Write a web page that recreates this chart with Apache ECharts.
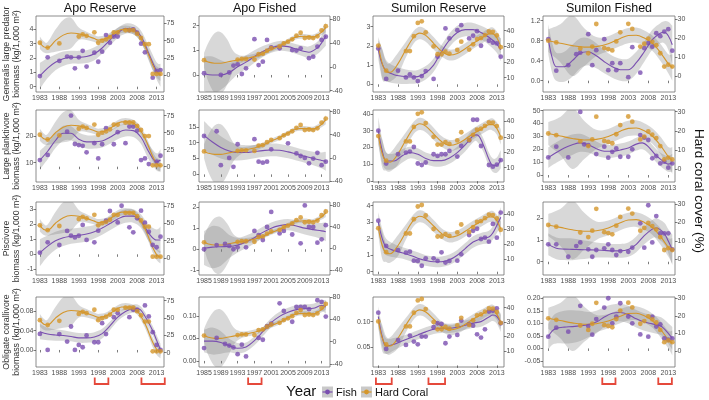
<!DOCTYPE html>
<html><head><meta charset="utf-8">
<script src="https://cdn.jsdelivr.net/npm/echarts@6/dist/echarts.min.js"></script>
<style>html,body{margin:0;padding:0;background:#fff}#c{width:709px;height:400px}</style>
</head><body><div id="c"></div><script>
// ---------------- DATA ----------------
const colTitles = ['Apo Reserve','Apo Fished','Sumilon Reserve','Sumilon Fished'];
const rowTitles = [['Generalis large predator','biomass (kg/1,000 m\u00b2)'],['Large planktivore','biomass (kg/1,000 m\u00b2)'],['Piscivore','biomass (kg/1,000 m\u00b2)'],['Obligate corallivore','biomass (kg/1,000 m\u00b2)']];
const xTicksMain = [1983,1988,1993,1998,2003,2008,2013];
const xTicksApoFished = [1985,1989,1993,1997,2001,2005,2009,2013];

// hard coral cover (%) per site: [year, cover]
const CORAL_AR = [[1983,47],[1985,40],[1988,46],[1993,56],[1994,59],[1995,57],[1997,62],[1998,47],[1999,50],[2000,52],[2001,55],[2002,62],[2003,62],[2005,65],[2006,65],[2007,65],[2008,60],[2009,54],[2010,45],[2011,45],[2012,2],[2013,2],[2014,2]];
const CORAL_AF = [[1985,11],[1993,12],[1994,13],[1995,13],[1997,12],[1998,21],[1999,22],[2000,27],[2001,31],[2003,34],[2004,39],[2005,42],[2006,46],[2007,52],[2008,57],[2009,48],[2010,49],[2011,48],[2012,51],[2013,61],[2014,68]];
const CORAL_SR = [[1983,30.5],[1985,14.5],[1990,27],[1991,27],[1992,36.5],[1993,45],[1994,46],[1995,39],[1997,30],[1998,25],[1999,25],[2000,26.6],[2001,25.4],[2003,27.7],[2004,33],[2006,28],[2007,31.3],[2008,34.7],[2009,35.3],[2010,37.2],[2011,39.5],[2012,39.3],[2013,37],[2014,29.5]];
const CORAL_SF = [[1983,18.6],[1985,17.7],[1991,14.5],[1993,12],[1994,15.5],[1995,27.4],[1997,14.7],[1998,14.2],[1999,13.5],[2000,18.2],[2001,23],[2003,27.5],[2004,24.8],[2006,15.5],[2007,17],[2008,19.7],[2009,18],[2010,16.2],[2011,12],[2012,5],[2013,6],[2014,5]];
// fitted smooth: [year, fit, half-width of confidence band]
const CORAL_AR_FIT = [[1983,47,9],[1984,41,8],[1985,40,8],[1987,50,16],[1989,58,22],[1991,61,22],[1993,60,9],[1995,57,6],[1997,53,5],[1998,51,5],[2000,53,5],[2002,60,5],[2004,66,5],[2006,66,5],[2008,60,5],[2010,42,6],[2012,15,7],[2013,5,8],[2014,1,9]];
const CORAL_AF_FIT = [[1985,11,12],[1986,8,32],[1987.5,6,50],[1989,6,52],[1990.5,8,38],[1992,10,16],[1993.5,12,7],[1995,14,5],[1997,17,5],[1999,22,4],[2001,29,4],[2003,35,4],[2005,43,4],[2007,50,4],[2009,51,4],[2011,50,4],[2013,58,5],[2014,66,8]];
const CORAL_SR_FIT = [[1983,31,5],[1984,19,9],[1985,14,6],[1986,13.5,6],[1988,19,7],[1990,28,5],[1992,36,4],[1993.5,38.5,4],[1995,37,4],[1997,32,4],[1999,27,3.5],[2001,24.5,3.5],[2003,25.5,3.5],[2005,28.5,3.5],[2007,32,3.5],[2009,35,3.5],[2011,38,3.5],[2012,38,4],[2013,35.5,4],[2014,30,5]];
const CORAL_SF_FIT = [[1983,18.6,6],[1986,17.3,10],[1989,16,16],[1992,15.2,10],[1995,15.5,5],[1998,17,4],[2001,19.8,4],[2003,21.3,4],[2005,21.5,4],[2007,20,4],[2009,17.3,4],[2011,12.5,4.5],[2013,6.5,5],[2014,4.5,7]];

// fish biomass points: [year, biomass]
const AR_GEN = [[1983,0.74],[1985,2.05],[1988,1.8],[1990,2.1],[1991,2.05],[1992,1.28],[1993,2.05],[1994,2.5],[1995,1.4],[1997,2.37],[1998,1.74],[1999,2.44],[2000,3.6],[2001,3.07],[2002,3.5],[2003,3.5],[2006,3.95],[2007,4.0],[2008,3.77],[2009,3.0],[2010,2.4],[2012,0.63],[2013,1.1],[2014,1.16]];
const AF_GEN = [[1985,0.07],[1989,0.0],[1991,0.1],[1992,0.38],[1993,0.43],[1994,0.04],[1995,0.27],[1997,1.45],[1998,0.4],[1999,0.54],[2000,1.42],[2001,1.12],[2003,1.08],[2006,1.01],[2007,0.99],[2008,1.08],[2010,0.68],[2011,0.74],[2012,1.15],[2013,1.42],[2014,1.55]];
const SR_GEN = [[1983,1.87],[1985,0.28],[1988,0.71],[1990,0.36],[1991,0.52],[1992,0.36],[1993,0.17],[1994,0.43],[1995,0.69],[1997,0.28],[1998,1.44],[2000,2.91],[2001,2.39],[2003,2.82],[2004,3.08],[2006,2.39],[2007,2.53],[2008,2.77],[2009,2.01],[2011,2.27],[2012,2.17],[2013,2.13],[2014,1.44]];
const SF_GEN = [[1983,0.83],[1985,0.2],[1988,0.31],[1990,0.53],[1991,0.56],[1993,0.93],[1994,0.31],[1995,0.61],[1997,0.83],[1998,0.21],[1999,0.35],[2000,0.21],[2001,0.35],[2003,0.07],[2004,0.67],[2006,0.16],[2007,0.65],[2008,0.75],[2009,0.68],[2010,0.95],[2011,0.89],[2012,0.98],[2013,1.03],[2014,0.6]];
const AR_PLK = [[1983,11],[1985,12.9],[1990,21.6],[1991,27.6],[1992,17],[1993,16.6],[1994,16.3],[1995,13.9],[1997,17.3],[1998,11.6],[1999,16.9],[2000,22.9],[2002,16.9],[2003,21.4],[2005,17.3],[2006,23.5],[2007,23.5],[2008,22],[2009,11],[2010,11.6],[2011,9.5],[2013,10.4],[2014,12.6]];
const AF_PLK = [[1985,12.1],[1988,13.6],[1989,2.9],[1991,5.2],[1992,2.4],[1993,9.5],[1997,11.1],[1998,4.0],[1999,3.7],[2000,4.0],[2001,7.9],[2005,9.8],[2007,6.6],[2008,5.8],[2009,5.2],[2010,3.5],[2011,5.0],[2012,6.8],[2013,2.9],[2014,4.0]];
const SR_PLK = [[1983,30],[1985,10.5],[1988,16],[1990,17],[1991,17.6],[1992,20.3],[1993,10.5],[1994,9.6],[1995,11.1],[1997,16],[1998,15],[1999,16],[2000,16],[2001,18],[2003,14.6],[2004,20.9],[2006,24.2],[2007,36.5],[2008,36.5],[2009,20.9],[2011,9.6],[2012,8.6],[2013,9.8],[2014,12.5]];
const SF_PLK = [[1983,13.7],[1985,22],[1988,13.7],[1991,49],[1992,23.8],[1993,23.3],[1995,16.3],[1997,22],[1998,13.5],[1999,18],[2000,20.7],[2001,14.2],[2003,14.2],[2004,20],[2006,31],[2007,29],[2008,27.2],[2009,13],[2010,14.8],[2011,9],[2012,10.4],[2013,5.7],[2014,9]];
const AR_PIS = [[1983,0.11],[1985,0.8],[1988,0.62],[1990,1.56],[1991,1.24],[1992,1.13],[1993,1.24],[1994,1.96],[1995,0.96],[1997,0.8],[1998,1.58],[2000,2.24],[2001,2.89],[2003,2.13],[2004,3.24],[2006,1.8],[2007,1.47],[2008,2.4],[2009,2.91],[2010,2.11],[2011,1.51],[2012,0.62],[2013,0.47],[2014,1.18]];
const AF_PIS = [[1985,0.0],[1988,0.2],[1990,0.25],[1991,0.16],[1992,0.0],[1993,0.09],[1995,0.09],[1997,0.87],[1998,0.67],[1999,0.44],[2000,1.06],[2001,1.77],[2003,0.75],[2004,0.87],[2006,0.7],[2008,0.28],[2009,2.08],[2010,1.06],[2011,1.06],[2012,0.31],[2013,0.47],[2014,1.14]];
const SR_PIS = [[1983,3.09],[1985,1.56],[1988,1.31],[1990,1.15],[1991,1.21],[1992,0.67],[1993,0.65],[1994,0.36],[1995,0.81],[1997,0.81],[1998,0.65],[1999,1.17],[2000,0.55],[2001,0.65],[2003,0.67],[2004,1.05],[2006,2.22],[2007,2.48],[2008,2.6],[2009,1.98],[2010,2.06],[2011,1.82],[2012,2.89],[2013,2.06],[2014,3.58]];
const SF_PIS = [[1983,0.8],[1985,0.8],[1988,0.23],[1990,0.72],[1991,0.89],[1993,0.57],[1994,0.23],[1995,0.54],[1997,0.62],[1998,0.8],[1999,0.54],[2000,0.31],[2001,0.49],[2003,0.46],[2004,0.65],[2006,1.77],[2007,0.65],[2008,2.6],[2009,0.89],[2010,2.1],[2011,1.31],[2012,1.31],[2013,1.31],[2014,0.57]];
const AR_COR = [[1983,0.0334],[1985,0.0],[1988,0.033],[1990,0.0174],[1991,0.0487],[1992,0.0],[1993,0.0104],[1994,0.0056],[1995,0.03],[1997,0.016],[1998,0.016],[1999,0.0557],[2000,0.033],[2002,0.068],[2003,0.0765],[2006,0.068],[2007,0.0835],[2008,0.0835],[2010,0.0925],[2011,0.0696],[2012,0.0369],[2013,0.0104],[2014,0.0]];
const AF_COR = [[1985,0.0286],[1988,0.051],[1990,0.0376],[1991,0.034],[1992,0.03],[1993,0.015],[1994,0.036],[1995,0.01],[1998,0.051],[1999,0.047],[2000,0.077],[2001,0.083],[2003,0.128],[2004,0.111],[2006,0.087],[2007,0.12],[2008,0.12],[2009,0.12],[2010,0.115],[2012,0.135],[2013,0.131],[2014,0.0985]];
const SR_COR = [[1983,0.1175],[1985,0.0468],[1988,0.064],[1990,0.0545],[1991,0.0727],[1992,0.061],[1993,0.0558],[1994,0.0708],[1995,0.0708],[1997,0.089],[1998,0.0968],[1999,0.0955],[2000,0.0578],[2001,0.0708],[2003,0.074],[2004,0.102],[2006,0.0948],[2007,0.092],[2008,0.0753],[2009,0.0688],[2010,0.085],[2011,0.1195],[2012,0.121],[2013,0.126],[2014,0.0968]];
const SF_COR = [[1983,0.0467],[1985,0.0827],[1988,0.0667],[1991,0.17],[1993,0.089],[1994,0.055],[1995,0.117],[1997,0.163],[1998,0.2],[1999,0.1],[2000,0.127],[2001,0.18],[2003,0.127],[2004,0.1],[2006,0.056],[2008,0.0467],[2009,0.127],[2010,0.087],[2011,0.096],[2012,0.04],[2013,0.035],[2014,0.04]];

// fish smooth fits: [year, fit, half-width]
const AR_GEN_FIT = [[1983,0.75,0.9],[1985,1.3,0.7],[1987,1.7,0.55],[1989,1.95,0.5],[1991,2.05,0.45],[1993,2.05,0.45],[1995,2.1,0.45],[1997,2.3,0.45],[1999,2.7,0.4],[2001,3.25,0.4],[2003,3.75,0.35],[2005,4.05,0.35],[2007,4.0,0.35],[2009,3.5,0.4],[2011,2.3,0.5],[2013,1.1,0.6],[2014,0.8,0.8]];
const AF_GEN_FIT = [[1985,0.05,0.7],[1987,0.0,0.75],[1989,0.0,0.6],[1991,0.1,0.4],[1993,0.33,0.3],[1995,0.52,0.28],[1997,0.75,0.25],[1999,0.95,0.22],[2001,1.1,0.2],[2003,1.18,0.2],[2005,1.15,0.2],[2007,1.05,0.2],[2009,0.95,0.22],[2010,0.92,0.24],[2012,1.1,0.25],[2013,1.3,0.3],[2014,1.58,0.4]];
const SR_GEN_FIT = [[1983,1.8,0.5],[1984,1.05,0.8],[1985,0.7,0.55],[1987,0.5,0.45],[1989,0.42,0.4],[1991,0.38,0.35],[1993,0.4,0.35],[1995,0.6,0.35],[1997,1.0,0.35],[1999,1.7,0.35],[2001,2.3,0.35],[2003,2.7,0.35],[2005,2.85,0.35],[2007,2.85,0.35],[2009,2.7,0.35],[2011,2.45,0.4],[2013,2.1,0.45],[2014,1.8,0.6]];
const SF_GEN_FIT = [[1983,0.83,0.3],[1984,0.45,0.3],[1985,0.28,0.28],[1987,0.28,0.3],[1989,0.4,0.32],[1991,0.55,0.3],[1993,0.58,0.27],[1995,0.5,0.25],[1997,0.38,0.23],[1999,0.28,0.22],[2001,0.22,0.22],[2003,0.22,0.22],[2005,0.36,0.22],[2007,0.58,0.2],[2009,0.82,0.2],[2011,0.95,0.2],[2012,0.97,0.22],[2013,0.9,0.28],[2014,0.72,0.38]];
const AR_PLK_FIT = [[1983,11,3.5],[1985,14.3,3],[1987,18.3,2.8],[1989,21,2.8],[1991,21,2.6],[1993,18.8,2.5],[1995,17.8,2.5],[1997,17.8,2.5],[1999,18.1,2.4],[2001,19.5,2.4],[2003,21.2,2.4],[2005,22.2,2.4],[2007,22,2.4],[2009,19.5,2.5],[2011,14,2.8],[2013,10.3,3.2],[2014,11,4]];
const AF_PLK_FIT = [[1985,12.3,4.5],[1987,10.2,4],[1989,8.5,3.5],[1991,7.4,3],[1993,6.9,2.5],[1995,6.9,2.3],[1997,7.2,2.1],[1999,7.5,2],[2001,7.7,2],[2003,7.6,2],[2005,7.1,2],[2007,6.4,2],[2009,5.7,2],[2011,5.0,2.1],[2013,4.4,2.5],[2014,4.1,3]];
const SR_PLK_FIT = [[1983,30,8],[1984,18,7],[1985,12,5],[1987,12,4.5],[1989,15,4],[1991,17,3.5],[1993,16,3.5],[1995,13.5,3.5],[1997,12.2,3.5],[1999,12.2,3.5],[2001,13.8,3.5],[2003,17,3.5],[2005,21.5,3.8],[2007,27,4],[2008,27.5,4],[2009.5,22,4],[2011,13,4],[2012,9.5,4],[2013,9.5,4.5],[2014,13,5.5]];
const SF_PLK_FIT = [[1983,13.5,8],[1985,17.5,8],[1987,21,8],[1989,23.5,8],[1991,25,7],[1993,23.5,6],[1995,20.5,5.5],[1997,18.5,5],[1999,18.5,5],[2001,19.5,5],[2003,21,5],[2005,24,5],[2006.5,25,5],[2008,22,5],[2010,15,5],[2012,10,5.5],[2013,8.5,6],[2014,9.5,7]];
const AR_PIS_FIT = [[1983,0.1,0.9],[1985,0.55,0.7],[1987,0.9,0.6],[1989,1.1,0.55],[1991,1.2,0.5],[1993,1.27,0.5],[1995,1.35,0.5],[1997,1.5,0.45],[1999,1.75,0.45],[2001,2.05,0.45],[2003,2.35,0.45],[2005,2.55,0.45],[2007,2.55,0.45],[2009,2.2,0.45],[2011,1.4,0.55],[2013,0.95,0.7],[2014,0.95,0.9]];
const AF_PIS_FIT = [[1985,0.05,0.8],[1987,0.1,1.0],[1989,0.12,0.9],[1991,0.13,0.55],[1993,0.2,0.35],[1995,0.35,0.3],[1997,0.55,0.28],[1999,0.8,0.27],[2001,1.0,0.27],[2003,1.12,0.27],[2005,1.17,0.27],[2007,1.1,0.28],[2009,1.0,0.3],[2011,0.93,0.32],[2013,0.87,0.38],[2014,0.83,0.45]];
const SR_PIS_FIT = [[1983,3.0,0.6],[1984,2.0,0.6],[1985,1.5,0.5],[1987,1.28,0.4],[1989,1.15,0.35],[1991,1.0,0.35],[1993,0.82,0.35],[1995,0.68,0.32],[1997,0.6,0.32],[1999,0.6,0.32],[2001,0.72,0.32],[2003,1.0,0.32],[2005,1.4,0.33],[2007,1.8,0.35],[2009,2.0,0.35],[2011,2.1,0.38],[2012,2.35,0.4],[2013,2.8,0.45],[2014,3.3,0.6]];
const SF_PIS_FIT = [[1983,0.8,0.5],[1985,0.62,0.5],[1987,0.58,0.5],[1989,0.57,0.5],[1991,0.56,0.45],[1993,0.55,0.4],[1995,0.54,0.35],[1997,0.52,0.33],[1999,0.5,0.32],[2001,0.5,0.32],[2003,0.56,0.33],[2005,0.8,0.36],[2007,1.2,0.4],[2009,1.5,0.42],[2010,1.55,0.45],[2012,1.3,0.5],[2013,0.95,0.55],[2014,0.55,0.7]];
const AR_COR_FIT = [[1983,0.038,0.016],[1985,0.033,0.013],[1987,0.031,0.012],[1989,0.03,0.011],[1991,0.028,0.01],[1993,0.025,0.01],[1995,0.025,0.01],[1997,0.027,0.01],[1999,0.034,0.01],[2001,0.05,0.009],[2003,0.068,0.008],[2005,0.08,0.008],[2007,0.086,0.008],[2008.5,0.085,0.008],[2010,0.07,0.009],[2012,0.04,0.01],[2013,0.02,0.011],[2014,0.0,0.013]];
const AF_COR_FIT = [[1985,0.044,0.025],[1987,0.044,0.03],[1989,0.041,0.025],[1991,0.034,0.015],[1993,0.028,0.012],[1995,0.031,0.01],[1997,0.045,0.01],[1999,0.065,0.01],[2001,0.085,0.01],[2003,0.099,0.01],[2005,0.108,0.01],[2007,0.114,0.01],[2009,0.116,0.01],[2011,0.117,0.01],[2013,0.123,0.012],[2014,0.12,0.015]];
const SR_COR_FIT = [[1983,0.11,0.02],[1984,0.07,0.018],[1985,0.052,0.015],[1987,0.056,0.012],[1989,0.062,0.01],[1991,0.068,0.009],[1993,0.074,0.009],[1995,0.08,0.009],[1997,0.085,0.009],[1999,0.087,0.009],[2001,0.087,0.009],[2003,0.089,0.009],[2005,0.093,0.009],[2007,0.097,0.009],[2009,0.1,0.01],[2011,0.109,0.011],[2012,0.113,0.012],[2013,0.11,0.014],[2014,0.098,0.018]];
const SF_COR_FIT = [[1983,0.047,0.05],[1984,0.07,0.055],[1985,0.08,0.06],[1987,0.085,0.065],[1989,0.087,0.065],[1991,0.09,0.06],[1993,0.095,0.05],[1995,0.105,0.045],[1997,0.125,0.04],[1999,0.14,0.035],[2001,0.143,0.035],[2003,0.135,0.035],[2005,0.118,0.035],[2007,0.105,0.035],[2009,0.098,0.035],[2011,0.09,0.035],[2012,0.078,0.037],[2013,0.06,0.04],[2014,0.04,0.045]];

// tick labels
const leftTicksGEN = [['0','1','2','3','4'],['0','1','2'],['0','1','2','3'],['0.0','0.4','0.8','1.2']];
const leftTicksPLK = [['10','20'],['0','5','10','15'],['0','10','20','30','40'],['0','10','20','30','40','50']];
const leftTicksPIS = [['-1','0','1','2','3'],['-1','0','1','2'],['0','1','2','3','4'],['0','1','2']];
const leftTicksCOR = [['0.00','0.04','0.08'],['0.00','0.05','0.10'],['0.05','0.10'],['-0.05','0.00','0.05','0.10','0.15','0.20']];
const rightTicks = [['0','25','50','75'],['-40','0','40','80'],['10','20','30','40'],['0','10','20','30']];
// axis extents
const leftRangeGEN = [[-0.37,4.93],[-0.69,2.39],[-0.4,3.56],[-0.226,1.294]];
const leftRangePLK = [[2.8,29.7],[-2.4,20.3],[-0.5,42.3],[-5.4,50.5]];
const leftRangePIS = [[-1.38,3.49],[-1.22,2.24],[-0.2,4.22],[-0.61,2.75]];
const leftRangeCOR = [[-0.0354,0.110],[-0.0135,0.142],[0.0115,0.148],[-0.074,0.205]];
const rightRangeGEN = [[-24.1,85.6],[-42.2,85],[0.9,49.4],[-8.4,31.6]];
const rightRangePLK = [[-22.5,83.4],[-41.9,82.8],[0.6,47.5],[-6.8,30.9]];
const rightRangePIS = [[-24.4,80.5],[-49.3,85.5],[-0.7,48],[-8.6,31.1]];
const rightRangeCOR = [[-20.6,80.4],[-45.6,80.5],[-1.1,47.4],[-9.1,30.7]];
const xRanges = [[1982.0,2014.9],[1983.8,2015.0],[1981.66,2014.82],[1981.68,2014.68]];
// disturbance brackets (years) under bottom row
const bracketYears = [[[1997.1,2000.6],[2009.1,2015.1]],[[1995.5,1998.7]],[[1982.4,1986.4],[1995.7,1999.9]],[[1996.5,1999.8],[2010.5,2013.9]]];

// ---------------- LAYOUT / STYLE ----------------
const FONT = 'Liberation Sans, Arial, sans-serif';
const FISH = '#7a4fb0', CORAL = '#d4962b', BAND = 'rgba(125,125,125,0.3)';
const colBox = [[36,164],[199,330],[373,504],[543,675]];
const rowBox = [[16,92],[110,182],[202,275],[297,367]];

const fishPts = [[AR_GEN,AF_GEN,SR_GEN,SF_GEN],[AR_PLK,AF_PLK,SR_PLK,SF_PLK],[AR_PIS,AF_PIS,SR_PIS,SF_PIS],[AR_COR,AF_COR,SR_COR,SF_COR]];
const fishFits = [[AR_GEN_FIT,AF_GEN_FIT,SR_GEN_FIT,SF_GEN_FIT],[AR_PLK_FIT,AF_PLK_FIT,SR_PLK_FIT,SF_PLK_FIT],[AR_PIS_FIT,AF_PIS_FIT,SR_PIS_FIT,SF_PIS_FIT],[AR_COR_FIT,AF_COR_FIT,SR_COR_FIT,SF_COR_FIT]];
const coralPts = [CORAL_AR,CORAL_AF,CORAL_SR,CORAL_SF];
const coralFits = [CORAL_AR_FIT,CORAL_AF_FIT,CORAL_SR_FIT,CORAL_SF_FIT];
const leftTicks = [leftTicksGEN,leftTicksPLK,leftTicksPIS,leftTicksCOR];
const leftRanges = [leftRangeGEN,leftRangePLK,leftRangePIS,leftRangeCOR];
const rightRanges = [rightRangeGEN,rightRangePLK,rightRangePIS,rightRangeCOR];

const grids=[], xAxes=[], yAxes=[], series=[];
function labelFmt(arr){ return v => { const s = arr.find(t => Math.abs(parseFloat(t)-v) < 1e-9); return s === undefined ? '' : s; }; }
function yAxis(gi, pos, range, ticks){
  const vals = ticks.map(Number);
  return {type:'value', gridIndex:gi, position:pos, min:range[0], max:range[1], scale:true,
    axisLine:{show:false}, splitLine:{show:false},
    axisTick:{show:true, length:2.5, customValues:vals, lineStyle:{color:'#444', width:0.7}},
    axisLabel:{customValues:vals, fontSize:7, color:'#4d4d4d', margin:2.5, fontFamily:FONT, formatter:labelFmt(ticks)}};
}
// Catmull-Rom spline through pixel points -> cubic bezier path commands
function spline(pts){
  let s = '';
  for (let i=0;i<pts.length-1;i++){
    const p0=pts[Math.max(i-1,0)], p1=pts[i], p2=pts[i+1], p3=pts[Math.min(i+2,pts.length-1)];
    const t=1/6;
    s += ' C'+(p1[0]+(p2[0]-p0[0])*t)+','+(p1[1]+(p2[1]-p0[1])*t)+' '+(p2[0]-(p3[0]-p1[0])*t)+','+(p2[1]-(p3[1]-p1[1])*t)+' '+p2[0]+','+p2[1];
  }
  return s;
}
function bandSeries(fit, xi, yi){
  return {type:'custom', xAxisIndex:xi, yAxisIndex:yi, data:fit, encode:{x:0, y:1}, silent:true, z:1, clip:true,
    renderItem:(params, api)=>{
      if (params.dataIndex !== 0) return null;
      const up = fit.map(d => api.coord([d[0], d[1]+d[2]]));
      const lo = fit.map(d => api.coord([d[0], d[1]-d[2]])).reverse();
      const d = 'M'+up[0][0]+','+up[0][1]+spline(up)+' L'+lo[0][0]+','+lo[0][1]+spline(lo)+' Z';
      return {type:'path', shape:{pathData:d}, style:{fill:BAND, stroke:null}};
    }};
}
for (let r=0;r<4;r++) for (let c=0;c<4;c++){
  const i = r*4+c;
  grids.push({left:colBox[c][0], width:colBox[c][1]-colBox[c][0], top:rowBox[r][0], height:rowBox[r][1]-rowBox[r][0], show:true, borderColor:'#6e6e6e', borderWidth:0.8, backgroundColor:'rgba(0,0,0,0)'});
  const xt = c===1 ? xTicksApoFished : xTicksMain;
  xAxes.push({type:'value', gridIndex:i, min:xRanges[c][0], max:xRanges[c][1], axisLine:{show:false}, splitLine:{show:false},
    axisTick:{show:true, length:2.5, customValues:xt, lineStyle:{color:'#444', width:0.7}},
    axisLabel:{customValues:xt, fontSize:7, color:'#4d4d4d', margin:2.5, fontFamily:FONT, formatter:v=>String(v)}});
  yAxes.push(yAxis(i,'left',leftRanges[r][c],leftTicks[r][c]));
  yAxes.push(yAxis(i,'right',rightRanges[r][c],rightTicks[c]));
  const yl = 2*i, yr = 2*i+1;
  series.push(bandSeries(fishFits[r][c], i, yl));
  series.push(bandSeries(coralFits[c], i, yr));
  series.push({type:'line', xAxisIndex:i, yAxisIndex:yl, data:fishFits[r][c].map(d=>[d[0],d[1]]), smooth:0.35, symbol:'none', silent:true, z:3, lineStyle:{color:FISH, width:1.1}});
  series.push({type:'line', xAxisIndex:i, yAxisIndex:yr, data:coralFits[c].map(d=>[d[0],d[1]]), smooth:0.35, symbol:'none', silent:true, z:3, lineStyle:{color:CORAL, width:1.1}});
  series.push({type:'scatter', xAxisIndex:i, yAxisIndex:yl, data:fishPts[r][c], symbolSize:4.8, silent:true, z:4, itemStyle:{color:FISH}});
  series.push({type:'scatter', xAxisIndex:i, yAxisIndex:yr, data:coralPts[c], symbolSize:4.8, silent:true, z:4, itemStyle:{color:CORAL}});
}

const graphic = [];
colTitles.forEach((t,c)=>graphic.push({type:'text', x:(colBox[c][0]+colBox[c][1])/2, y:9, silent:true,
  style:{text:t, fontSize:12.5, fontFamily:FONT, fill:'#111', align:'center', verticalAlign:'middle'}}));
rowTitles.forEach((t,r)=>{
  const cy = (rowBox[r][0]+rowBox[r][1])/2;
  graphic.push({type:'text', x:7, y:cy, rotation:Math.PI/2, silent:true, style:{text:t[0], fontSize:8.8, fontFamily:FONT, fill:'#333', align:'center', verticalAlign:'middle'}});
  graphic.push({type:'text', x:17, y:cy, rotation:Math.PI/2, silent:true, style:{text:t[1], fontSize:8.8, fontFamily:FONT, fill:'#333', align:'center', verticalAlign:'middle'}});
});
graphic.push({type:'text', x:699, y:191, rotation:-Math.PI/2, silent:true, style:{text:'Hard coral cover (%)', fontSize:13.5, fontFamily:FONT, fill:'#111', align:'center', verticalAlign:'middle'}});
// legend
graphic.push({type:'text', x:286, y:392, silent:true, style:{text:'Year', fontSize:15, fontFamily:FONT, fill:'#111', align:'left', verticalAlign:'middle'}});
[[322,'Fish',FISH],[361,'Hard Coral',CORAL]].forEach(([x,t,col])=>{
  graphic.push({type:'rect', shape:{x:x, y:386.5, width:11, height:11}, silent:true, style:{fill:'#c9c9c9'}});
  graphic.push({type:'line', shape:{x1:x+0.5, y1:392, x2:x+10.5, y2:392}, silent:true, style:{stroke:col, lineWidth:1.2}});
  graphic.push({type:'circle', shape:{cx:x+5.5, cy:392, r:2.4}, silent:true, style:{fill:col}});
  graphic.push({type:'text', x:x+14, y:392.5, silent:true, style:{text:t, fontSize:11, fontFamily:FONT, fill:'#111', align:'left', verticalAlign:'middle'}});
});

const chart = echarts.init(document.getElementById('c'), null, {renderer:'canvas', width:709, height:400});
chart.setOption({animation:false, backgroundColor:'#fff', grid:grids, xAxis:xAxes, yAxis:yAxes, series:series, graphic:graphic});

// brackets placed through the bottom-row x axes
bracketYears.forEach((list,c)=>{
  list.forEach(([a,b])=>{
    const x1 = chart.convertToPixel({xAxisIndex:12+c}, a);
    const x2 = chart.convertToPixel({xAxisIndex:12+c}, b);
    graphic.push({type:'polyline', silent:true, shape:{points:[[x1,377.5],[x1,384],[x2,384],[x2,377.5]]}, style:{stroke:'#e5493b', lineWidth:1.8, fill:null}});
  });
});
chart.setOption({graphic:graphic});
</script></body></html>
